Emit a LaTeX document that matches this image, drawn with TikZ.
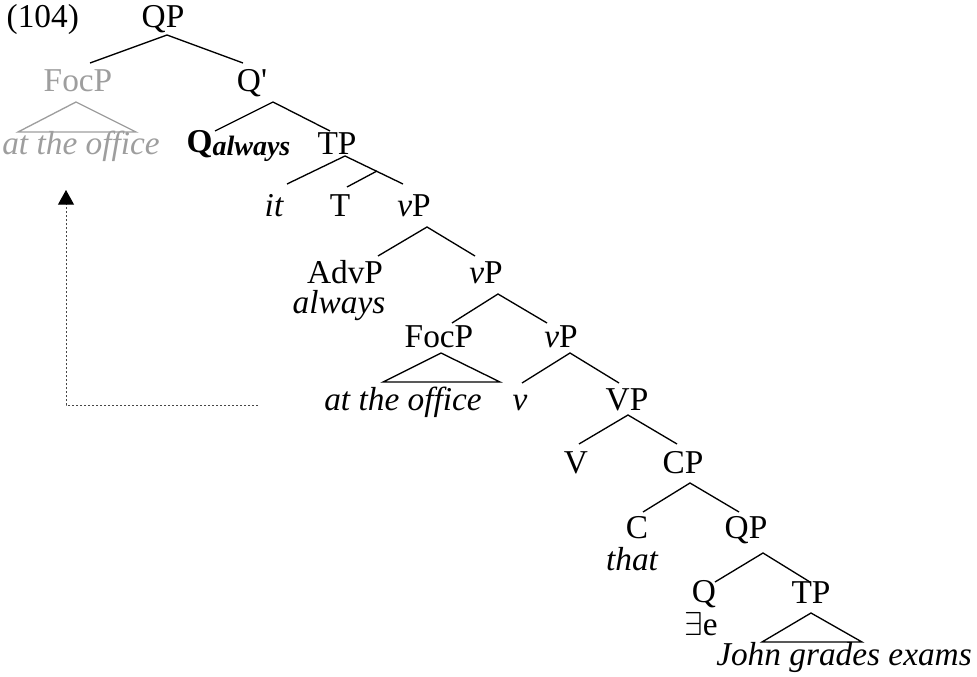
\documentclass[tikz,border=0pt]{standalone}
\usepackage{fontspec}
\setmainfont{Liberation Serif}
\usetikzlibrary{arrows.meta}
\definecolor{movedgray}{RGB}{158,158,158}
\definecolor{tracegray}{RGB}{70,70,70}
\begin{document}
\begin{tikzpicture}[x=0.75pt,y=-0.75pt,line width=1pt,
  every node/.style={font=\fontsize{25}{30}\selectfont,inner sep=0pt,anchor=base},
  lex/.style={font=\fontsize{25}{30}\selectfont\itshape},
  moved/.style={text=movedgray},
  trace/.style={draw=tracegray,line width=0.7pt,dash pattern=on 1.6pt off 1.4pt,-{Triangle[width=12pt,length=11pt,color=black]}}]
  \useasboundingbox (0,0) rectangle (977,677);
  % labels
  \node[anchor=base west] (ex) at (6,28) {(104)};
  \node (qp) at (163,28) {QP};
  \node[moved] (focpg) at (78,92) {FocP};
  \node (qbar) at (252,92) {Q\textquotesingle};
  \node[lex,moved] (officeg) at (81,155) {at the office};
  \node[anchor=base west] (qalw) at (186,153) {\textbf{Q}\raisebox{-2pt}{\fontsize{21}{23}\selectfont\bfseries\itshape always}};
  \node (tp) at (337,155) {TP};
  \node[lex] (it) at (274,217) {it};
  \node (t) at (340,217) {T};
  \node (vp) at (414,217) {\textit{v}P};
  \node (advp) at (345,283) {AdvP};
  \node[lex] (always) at (339,313) {always};
  \node (vpb) at (486,283) {\textit{v}P};
  \node (focp) at (439,347) {FocP};
  \node (vpc) at (561,347) {\textit{v}P};
  \node[lex] (office) at (403,410) {at the office};
  \node[lex] (v) at (520,410) {v};
  \node (vvp) at (627,410) {VP};
  \node (vv) at (576,473) {V};
  \node (cp) at (683,473) {CP};
  \node (c) at (637,538) {C};
  \node[lex] (that) at (632,570) {that};
  \node (qpb) at (746,538) {QP};
  \node (q) at (704,602) {Q};
  \node (ex-e) at (701,635) {$\exists$e};
  \node (tpb) at (811,603) {TP};
  \node[lex] (john) at (844,665) {John grades exams};
  % branch points
  \coordinate (qp-dn) at (167,35);
  \coordinate (focpg-up) at (90,63);
  \coordinate (qbar-up) at (243,63);
  \coordinate (qbar-dn) at (273,102);
  \coordinate (qalw-up) at (215,131);
  \coordinate (tp-up) at (330,131);
  \coordinate (tp-dn) at (345,156);
  \coordinate (it-up) at (287,184);
  \coordinate (vp-up) at (403,184);
  \coordinate (tp-mid) at (377,171);
  \coordinate (t-up) at (347,187);
  \coordinate (vp-dn) at (427,227);
  \coordinate (advp-up) at (378,256);
  \coordinate (vpb-up) at (475,256);
  \coordinate (vpb-dn) at (498,294);
  \coordinate (focp-up) at (452,323);
  \coordinate (vpc-up) at (547,323);
  \coordinate (vpc-dn) at (570,353);
  \coordinate (v-up) at (522,383);
  \coordinate (vvp-up) at (619,383);
  \coordinate (vvp-dn) at (628,415);
  \coordinate (vv-up) at (579,444);
  \coordinate (cp-up) at (677,444);
  \coordinate (cp-dn) at (690,483);
  \coordinate (c-up) at (643,512);
  \coordinate (qpb-up) at (739,512);
  \coordinate (qpb-dn) at (763,553);
  \coordinate (q-up) at (715,582);
  \coordinate (tpb-up) at (810,582);
  \coordinate (focpg-a) at (76,102);
  \coordinate (focpg-l) at (18,132);
  \coordinate (focpg-r) at (136,132);
  \coordinate (focp-a) at (441,353);
  \coordinate (focp-l) at (383,382);
  \coordinate (focp-r) at (500,382);
  \coordinate (tpb-a) at (811,613);
  \coordinate (tpb-l) at (762,642);
  \coordinate (tpb-r) at (862,642);
  % branches
  \draw (focpg-up) -- (qp-dn) -- (qbar-up);
  \draw (qalw-up) -- (qbar-dn) -- (tp-up);
  \draw (it-up) -- (tp-dn) -- (vp-up);
  \draw (t-up) -- (tp-mid);
  \draw (advp-up) -- (vp-dn) -- (vpb-up);
  \draw (focp-up) -- (vpb-dn) -- (vpc-up);
  \draw (v-up) -- (vpc-dn) -- (vvp-up);
  \draw (vv-up) -- (vvp-dn) -- (cp-up);
  \draw (c-up) -- (cp-dn) -- (qpb-up);
  \draw (q-up) -- (qpb-dn) -- (tpb-up);
  \draw[movedgray] (focpg-a) -- (focpg-l) -- (focpg-r) -- cycle;
  \draw (focp-a) -- (focp-l) -- (focp-r) -- cycle;
  \draw (tpb-a) -- (tpb-l) -- (tpb-r) -- cycle;
  % movement
  \coordinate (mv-from) at (258,405);
  \coordinate (mv-to) at (66,190);
  \draw[trace] (mv-from) -| (mv-to);
\end{tikzpicture}
\end{document}
